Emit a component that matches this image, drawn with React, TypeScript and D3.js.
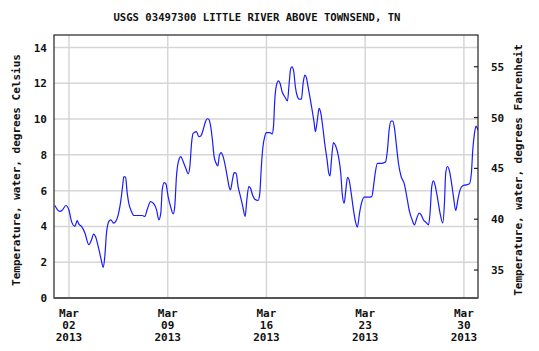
import React, { useEffect, useRef } from 'react'
import * as d3 from 'd3'

// days since Mar 1 2013 00:00
const days = [
  0.00, 0.19, 0.35, 0.52, 0.78, 0.99, 1.18, 1.42, 1.58, 1.70, 1.89, 2.13, 2.41, 2.60, 2.74, 2.88,
  3.07, 3.26, 3.43, 3.54, 3.66, 3.83, 3.97, 4.16, 4.32, 4.49, 4.65, 4.80, 4.89, 5.01, 5.13, 5.24,
  5.43, 5.60, 5.91, 6.19, 6.38, 6.54, 6.78, 7.02, 7.21, 7.37, 7.51, 7.61, 7.75, 7.87, 8.03, 8.20,
  8.39, 8.50, 8.62, 8.79, 8.93, 9.10, 9.28, 9.45, 9.57, 9.69, 9.80, 10.04, 10.20, 10.35, 10.51,
  10.68, 10.79, 10.91, 11.05, 11.17, 11.29, 11.41, 11.55, 11.67, 11.79, 11.93, 12.09, 12.24, 12.35,
  12.45, 12.59, 12.71, 12.85, 12.99, 13.16, 13.32, 13.49, 13.61, 13.75, 13.87, 14.01, 14.17, 14.41,
  14.53, 14.64, 14.74, 14.88, 15.00, 15.24, 15.40, 15.50, 15.59, 15.71, 15.85, 15.97, 16.11, 16.30,
  16.49, 16.61, 16.72, 16.82, 16.94, 17.05, 17.20, 17.31, 17.48, 17.60, 17.72, 17.83, 17.95, 18.12,
  18.26, 18.38, 18.47, 18.61, 18.73, 18.85, 19.02, 19.13, 19.30, 19.42, 19.51, 19.61, 19.75, 19.91,
  20.11, 20.27, 20.37, 20.51, 20.63, 20.75, 20.86, 21.01, 21.17, 21.31, 21.45, 21.60, 21.74, 21.93,
  22.23, 22.47, 22.59, 22.71, 22.87, 23.18, 23.44, 23.58, 23.70, 23.84, 23.96, 24.08, 24.20, 24.36,
  24.55, 24.76, 24.95, 25.14, 25.33, 25.49, 25.66, 25.82, 25.97, 26.13, 26.32, 26.49, 26.60, 26.72,
  26.84, 26.98, 27.15, 27.31, 27.50, 27.62, 27.71, 27.83, 27.97, 28.09, 28.26, 28.42, 28.57, 28.73,
  28.92, 29.16, 29.39, 29.53, 29.63, 29.75, 29.86, 30.01, 30.10,
]
const tempC = [
  5.17, 4.93, 4.84, 4.90, 5.17, 4.93, 4.28, 4.00, 4.33, 4.13, 4.00, 3.63, 2.98, 3.26, 3.57, 3.44,
  2.89, 2.23, 1.71, 2.33, 3.63, 4.28, 4.37, 4.19, 4.28, 4.65, 5.30, 6.23, 6.79, 6.75, 5.86, 5.30,
  4.84, 4.61, 4.61, 4.61, 4.56, 4.93, 5.39, 5.26, 4.93, 4.37, 4.74, 6.04, 6.45, 6.38, 5.67, 5.12,
  4.70, 5.12, 6.79, 7.72, 7.90, 7.62, 7.25, 6.94, 7.35, 8.65, 9.20, 9.30, 9.02, 9.06, 9.39,
  9.86, 10.02, 9.99, 9.58, 8.83, 7.90, 7.57, 7.38, 8.00, 8.13, 7.90, 7.35, 6.70, 6.23,
  6.04, 6.60, 7.01, 6.97, 6.23, 5.67, 5.12, 4.56, 5.49, 6.23, 6.14, 5.77, 5.52, 5.45,
  5.86, 7.35, 8.37, 9.02, 9.24, 9.24, 9.17, 9.58, 11.06, 11.90, 12.14, 11.99, 11.53, 11.25,
  11.01, 11.99, 12.83, 12.92, 12.64, 11.81, 11.25, 11.12, 11.12, 11.99, 12.46, 12.33, 11.81, 11.06,
  10.41, 9.80, 9.30, 9.95, 10.60, 10.36, 9.39, 8.65, 7.72, 6.97, 6.83, 7.72, 8.68, 8.50,
  7.90, 6.97, 5.86, 5.30, 6.04, 6.75, 6.60, 5.86, 4.93, 4.28, 3.96, 4.74, 5.30, 5.64,
  5.64, 5.67, 6.23, 6.97, 7.53, 7.53, 7.60, 8.28, 9.39, 9.89, 9.89, 9.48, 8.65, 7.53,
  6.79, 6.42, 5.67, 4.84, 4.37, 4.09, 4.46, 4.74, 4.65, 4.37, 4.22, 4.09, 4.74, 6.23,
  6.55, 6.23, 5.49, 4.74, 4.19, 5.30, 6.97, 7.35, 7.12, 6.60, 5.67, 4.89, 5.49, 6.04,
  6.27, 6.32, 6.38, 6.97, 8.28, 9.20, 9.61, 9.39, 9.30,
]

const celsiusTicks = [0, 2, 4, 6, 8, 10, 12, 14]
const fahrenheitTicks = [35, 40, 45, 50, 55]
const dateTicks = ['2013-03-02', '2013-03-09', '2013-03-16', '2013-03-23', '2013-03-30']

const title = 'USGS 03497300 LITTLE RIVER ABOVE TOWNSEND, TN'
const leftLabel = 'Temperature, water, degrees Celsius'
const rightLabel = 'Temperature, water, degrees Fahrenheit'

const W = 539
const H = 351
const L = 54, R = 478, T = 35, B = 298
const FONT = '"DejaVu Sans Mono", monospace'

const parse = (s: string) => {
  const [y, m, d] = s.split('-').map(Number)
  return new Date(y, m - 1, d)
}
const start = new Date(2013, 2, 1)

export default function App() {
  const svgRef = useRef<SVGSVGElement>(null)

  useEffect(() => {
    const svg = d3.select(svgRef.current)
    svg.selectAll('*').remove()

    const x = d3.scaleTime()
      .domain([new Date(start.getTime() - 1.5 * 3600e3), new Date(2013, 2, 31)])
      .range([L, R])
    const y = d3.scaleLinear([0, 14.7], [B, T])
    const yF = d3.scaleLinear([32.25, 58.12], [B, T])

    svg.append('rect').attr('width', W).attr('height', H).attr('fill', '#fff')

    // grid
    const grid = svg.append('g').attr('stroke', '#d6d6d6').attr('stroke-width', 1.5)
    grid.selectAll('line.h')
      .data(celsiusTicks.filter(d => d > 0))
      .enter().append('line')
      .attr('x1', L).attr('x2', R)
      .attr('y1', d => y(d)).attr('y2', d => y(d))
    grid.selectAll('line.v')
      .data(dateTicks.map(parse))
      .enter().append('line')
      .attr('x1', d => x(d)).attr('x2', d => x(d))
      .attr('y1', T).attr('y2', B)

    // data line
    svg.append('clipPath').attr('id', 'plotclip')
      .append('rect').attr('x', L).attr('y', T).attr('width', R - L).attr('height', B - T)
    const pts = days.map((d, i) => ({ t: new Date(start.getTime() + d * 86400e3), v: tempC[i] }))
    const line = d3.line<{ t: Date, v: number }>()
      .x(d => x(d.t))
      .y(d => y(d.v))
      .curve(d3.curveMonotoneX)
    svg.append('path')
      .attr('d', line(pts))
      .attr('fill', 'none')
      .attr('stroke', '#1a1aff')
      .attr('stroke-width', 1.2)
      .attr('clip-path', 'url(#plotclip)')

    // right inward ticks
    svg.append('g').selectAll('line')
      .data(fahrenheitTicks)
      .enter().append('line')
      .attr('x1', R - 4).attr('x2', R)
      .attr('y1', d => yF(d)).attr('y2', d => yF(d))
      .attr('stroke', '#222').attr('stroke-width', 1.2)

    // frame
    svg.append('rect')
      .attr('x', L).attr('y', T).attr('width', R - L).attr('height', B - T)
      .attr('fill', 'none').attr('stroke', '#222').attr('stroke-width', 1.2)
    svg.append('line')
      .attr('x1', L).attr('x2', R).attr('y1', B).attr('y2', B)
      .attr('stroke', '#555').attr('stroke-width', 2.2)

    const text = (sel: d3.Selection<any, any, any, any>) =>
      sel.attr('font-family', FONT).attr('font-weight', 'bold').attr('font-size', 11).attr('fill', '#111')

    // left ticks
    svg.append('g').selectAll('text')
      .data(celsiusTicks)
      .enter().append('text')
      .call(text)
      .attr('x', 47).attr('y', d => y(d) + 4)
      .attr('text-anchor', 'end')
      .text(d => d)

    // right ticks
    svg.append('g').selectAll('text')
      .data(fahrenheitTicks)
      .enter().append('text')
      .call(text)
      .attr('x', 491).attr('y', d => yF(d) + 4)
      .text(d => d)

    // x labels
    const fmt = [d3.timeFormat('%b'), d3.timeFormat('%d'), d3.timeFormat('%Y')]
    const xl = svg.append('g').selectAll('g')
      .data(dateTicks.map(parse))
      .enter().append('g')
    fmt.forEach((f, i) => {
      xl.append('text')
        .call(text)
        .attr('x', d => x(d)).attr('y', 317 + i * 12)
        .attr('text-anchor', 'middle')
        .text(d => f(d))
    })

    svg.append('text').call(text)
      .attr('font-size', 10.6)
      .attr('x', 257).attr('y', 21)
      .attr('text-anchor', 'middle')
      .text(title)

    svg.append('text').call(text)
      .attr('transform', `translate(20,170) rotate(-90)`)
      .attr('text-anchor', 'middle')
      .text(leftLabel)

    svg.append('text').call(text)
      .attr('transform', `translate(522,170) rotate(-90)`)
      .attr('text-anchor', 'middle')
      .text(rightLabel)
  }, [])

  return (
    <svg ref={svgRef} width={W} height={H}
      style={{ position: 'absolute', left: 0, top: 0, display: 'block' }} />
  )
}
